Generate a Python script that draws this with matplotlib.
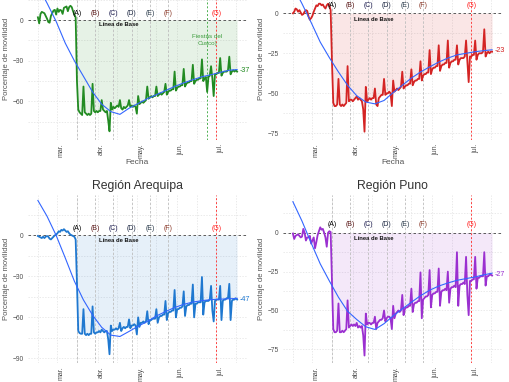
import numpy as np
import pandas as pd
import matplotlib
matplotlib.use("Agg")
import matplotlib.pyplot as plt

plt.rcParams["font.family"] = ["Liberation Sans", "DejaVu Sans"]

# ---- datos ----
dates = pd.date_range("2020-02-15", "2020-07-17")  # 154 dias, semanas sab-vie
smooth_dates = list(pd.date_range("2020-02-15", periods=22, freq="7D")) + [pd.Timestamp("2020-07-17")]

event_dates = ["2020-03-16", "2020-03-30", "2020-04-13", "2020-04-27", "2020-05-11", "2020-05-25", "2020-07-01"]
event_labels = ["(A)", "(B)", "(C)", "(D)", "(E)", "(F)", "(G)"]
event_colors = ["#000000", "#5c1a1a", "#1a1a4d", "#1f2a44", "#2f3f4f", "#8b3a2a", "#ff2020"]
month_ticks = ["2020-03-01", "2020-04-01", "2020-05-01", "2020-06-01", "2020-07-01"]
month_labels = ["mar.", "abr.", "may.", "jun.", "jul."]

cusco = [
    2, -2.5, 4.5, 6, 5.5, 5, 3,
    1, -1.5, -2, 3, 5, 7, 7.5,
    4, 8.5, 6, 7.5, 7, 4.5, 9,
    9.5, 10, 6.5, 9.5, 10.5, 9.5, 6.5,
    4, 2, -45, -66, -68, -69, -70,
    -49, -68, -69, -70, -69, -70, -69,
    -47, -67, -68, -67, -68, -67, -67,
    -59, -66, -67, -68, -67, -74, -82,
    -61, -66, -64, -65, -64, -63, -64,
    -59, -65, -66, -64, -65, -64, -63,
    -59, -64, -63, -64, -63, -64, -69,
    -56, -62, -61, -60, -61, -60, -59,
    -49, -58, -57, -56, -57, -56, -56,
    -49, -56, -55, -54, -55, -54, -53,
    -47, -55, -53, -52, -52, -51, -51,
    -38, -52, -50, -49, -49, -48, -48,
    -36, -49, -47, -46, -46, -45, -45,
    -33, -47, -45, -44, -44, -43, -43,
    -29, -45, -43, -42, -53, -42, -41,
    -34, -43, -56, -40, -40, -39, -39,
    -28, -41, -39, -38, -38, -38, -37,
    -27, -40, -38, -37, -38, -37, -38,
]
sur = [
    0, 1, 3, 2.5, 1, 2, 0.5,
    -1, -0.5, 1, 2, 1.5, -2, -4,
    -3, -1.5, 1, 3, 5, 4.5, 6,
    6, 5, 5.5, 4, 3, 5, 6,
    5, 2, -30, -56, -58, -58, -57,
    -41, -57, -58, -57, -58, -57, -56,
    -33, -55, -54, -54, -55, -54, -53,
    -52, -54, -53, -54, -55, -60, -74,
    -46, -55, -54, -53, -54, -53, -53,
    -47, -57, -58, -53, -52, -51, -51,
    -41, -51, -50, -50, -49, -50, -58,
    -42, -49, -48, -47, -48, -47, -46,
    -36.5, -47, -46, -45, -45, -44, -44,
    -35, -45, -43, -42, -42, -41, -41,
    -30, -42, -39, -38, -38, -37, -37,
    -23, -38, -35, -34, -34, -33, -33,
    -20, -36, -33, -32, -32, -31, -31,
    -17, -34, -31, -30, -30, -29, -29,
    -20, -32, -29, -28, -28, -28, -27,
    -17, -30, -43, -27, -27, -26, -26,
    -17, -29, -26, -25, -25, -25, -24,
    -10, -27, -25, -24, -25, -24, -24,
]
arequipa = [
    -0.5, -1, -1.5, -2, -1, -2, -1,
    -0.5, -1, -2.5, -3, -2, -1, 0,
    0.5, 1.5, 3, 2.5, 4, 3.5, 4.5,
    3.5, 2.5, 3, 1.5, 0.5, 0, -0.5,
    -1, -3, -35, -70, -71.5, -72, -72,
    -54, -72, -73, -72, -73, -72, -72,
    -52, -71, -72, -71, -71, -70, -71,
    -69, -70, -71, -70, -70, -76, -87,
    -66, -70, -69, -69, -68, -69, -68,
    -64, -70, -68, -67, -68, -67, -67,
    -61.5, -68, -66, -66, -65, -66, -72.5,
    -60, -67, -64, -64, -63, -64, -63,
    -55.5, -65, -62, -62, -61, -61, -61,
    -54, -64, -60, -59, -59, -58, -58,
    -48, -62, -57, -56, -56, -55, -55,
    -40, -60, -54, -54, -53, -53, -52,
    -41, -59, -52, -51, -51, -50, -50,
    -36, -60, -50, -50, -49, -49, -49,
    -30.5, -58, -49, -48, -48, -48, -47,
    -37, -55, -63, -48, -47, -47, -47,
    -37, -62, -48, -47, -47, -46, -46,
    -35.5, -62, -48, -47, -47, -46, -47,
]
puno = [
    -0.5, -4, -2, -1.5, -1, -2, -3,
    -2.5, 2.5, 0, -5, -3, -3, -2,
    -7, -5, -3, -10, -6, -1.5, 1,
    3.5, 2, 2.5, 0, -3, -9, 0,
    1, 0.5, -30, -62, -64, -64, -63,
    -45.5, -64, -64, -63, -64, -63, -62,
    -43.5, -61, -60, -59, -60, -59, -60,
    -58, -61, -60, -61, -60, -66, -79,
    -52, -59, -58, -58, -59, -58, -58,
    -54, -62, -58, -57, -56, -56, -55,
    -50, -57, -55, -54, -54, -55, -62,
    -47, -55, -52, -51, -50, -51, -50,
    -40, -53, -49, -48, -48, -47, -47,
    -36, -51, -46, -45, -45, -44, -44,
    -25.5, -55, -43, -42, -41, -41, -40,
    -24, -48, -40, -39, -39, -38, -38,
    -23, -47, -38, -37, -37, -36, -37,
    -25, -45, -36, -35, -35, -34, -35,
    -12.5, -47, -34, -33, -33, -32, -33,
    -15.5, -40, -53, -31, -31, -30, -30,
    -15.5, -36, -29, -29, -28, -28, -28,
    -12.5, -34, -28, -28, -27, -27, -27.5,
]

# curva suavizada (azul), un valor por semana
cusco_smooth = [25, 12.5, -1, -17, -30, -41.5, -53, -62, -67.5, -69.5, -65, -61.5, -58, -55,
                -52, -49, -46.3, -44, -41.8, -40.3, -38.6, -37, -36.5]
sur_smooth = [17, 6, -5.7, -18, -27.7, -36.7, -45, -51.5, -55.5, -56.6, -54.5, -49.6, -45, -40.5,
              -36.7, -33.5, -30.5, -28, -26, -25, -24, -23.3, -22.8]
arequipa_smooth = [25.5, 14, 0, -16.5, -33.5, -47.3, -58.4, -67.3, -73, -74, -70.3, -66.5, -63, -59,
                   -55.8, -52.8, -50.5, -48.8, -47.8, -47, -46.7, -46.4, -46.2]
puno_smooth = [20, 7.5, -6.5, -20, -31, -41.5, -50.5, -55.8, -60.5, -62.2, -58.5, -53.5, -49, -44.7,
               -40.5, -37, -34.3, -32.3, -30.6, -29.5, -28.4, -27, -26]

W, H = 510, 382
fig = plt.figure(figsize=(W / 100, H / 100), dpi=100)


def px_axes(left, top, right, bottom):
    return fig.add_axes([left / W, 1 - bottom / H, (right - left) / W, (bottom - top) / H])


panels = [
    dict(box=(28, -23, 247, 140), vals=cusco, smooth=cusco_smooth, color="#228b22", end="-37",
         ylim=(-88.4, 31.7), major=[0, -30, -60], minor=[15, -15, -45, -75], title=None,
         fiesta=True, xlabel=True),
    dict(box=(283, -23, 502, 140), vals=sur, smooth=sur_smooth, color="#d42424", end="-23",
         ylim=(-79.2, 22.7), major=[0, -25, -50, -75], minor=[12.5, -12.5, -37.5, -62.5], title=None,
         fiesta=False, xlabel=True),
    dict(box=(28, 195, 247, 363), vals=arequipa, smooth=arequipa_smooth, color="#1f78d0", end="-47",
         ylim=(-93.4, 29.5), major=[0, -30, -60, -90], minor=[15, -15, -45, -75], title="Región Arequipa",
         fiesta=False, xlabel=False),
    dict(box=(283, 195, 502, 363), vals=puno, smooth=puno_smooth, color="#9b30d0", end="-27",
         ylim=(-83.8, 24.3), major=[0, -25, -50, -75], minor=[12.5, -12.5, -37.5, -62.5], title="Región Puno",
         fiesta=False, xlabel=False),
]

pad = pd.Timedelta(days=7.6)
lock = pd.Timestamp(event_dates[0])
mid_months = pd.to_datetime(["2020-02-15", "2020-03-16", "2020-04-16", "2020-05-16", "2020-06-16", "2020-07-16"])

for p in panels:
    ax = px_axes(*p["box"])
    vals = np.array(p["vals"], dtype=float)
    ax.set_xlim(dates[0] - pad, dates[-1] + pad)
    ax.set_ylim(*p["ylim"])
    for s in ax.spines.values():
        s.set_visible(False)

    ax.set_yticks(p["major"])
    ax.set_yticks(p["minor"], minor=True)
    ax.set_xticks(pd.to_datetime(month_ticks))
    ax.set_xticks(mid_months, minor=True)
    ax.set_xticklabels([])
    ax.tick_params(which="both", length=0)
    ax.tick_params(axis="y", labelsize=4.8, labelcolor="#4d4d4d", pad=3)
    ax.grid(which="both", color="#e2e2e2", linestyle=(0, (2, 2)), linewidth=0.5)
    ax.set_axisbelow(True)

    for d, lab in zip(pd.to_datetime(month_ticks), month_labels):
        ax.text(d + pd.Timedelta(days=3), -0.02, lab, transform=ax.get_xaxis_transform(),
                rotation=90, ha="center", va="top", fontsize=5, color="#4d4d4d")

    mask = dates >= lock
    ax.fill_between(dates[mask], vals[mask], 0, color=p["color"], alpha=0.11, linewidth=0)
    ax.axhline(0, color="#444444", linestyle=(0, (3, 3)), linewidth=0.6)

    for d in event_dates[:6]:
        ax.axvline(pd.Timestamp(d), color="#bdbdbd", linestyle=(0, (3, 2)), linewidth=0.6)
    if p["fiesta"]:
        ax.axvline(pd.Timestamp("2020-06-24"), color="#4caf50", linestyle=(0, (2, 2)), linewidth=0.7)
        ax.text(pd.Timestamp("2020-06-24"), -15, "Fiestas del\nCusco)", ha="center", va="center",
                fontsize=4.5, color="#3c9c3c", linespacing=1.5)
    ax.axvline(pd.Timestamp(event_dates[6]), color="#ff4040", linestyle=(0, (2, 2)), linewidth=0.7)

    ax.plot(dates, vals, color=p["color"], linewidth=1.3)
    ax.plot(smooth_dates, p["smooth"], color="#3366ff", linewidth=0.8)

    for d, lab, c in zip(event_dates, event_labels, event_colors):
        ax.text(pd.Timestamp(d), 5, lab, ha="center", va="center", fontsize=5, color=c)
    ax.text(pd.Timestamp("2020-04-17"), -3.6, "Línea de Base", ha="center", va="center",
            fontsize=4.2, fontweight="bold", color="#111111")
    ax.text(dates[-1] + pd.Timedelta(days=2), float(p["end"]), p["end"], ha="left", va="center",
            fontsize=5.2, color=p["color"], clip_on=False)

    ax.set_ylabel("Porcentaje de movilidad", fontsize=5.5, color="#555555", labelpad=2)
    if p["xlabel"]:
        ax.set_xlabel("Fecha", fontsize=6, color="#555555", labelpad=10)
    if p["title"]:
        ax.set_title(p["title"], fontsize=8.8, color="#333333", pad=4)

fig.savefig("out.png", dpi=100)
